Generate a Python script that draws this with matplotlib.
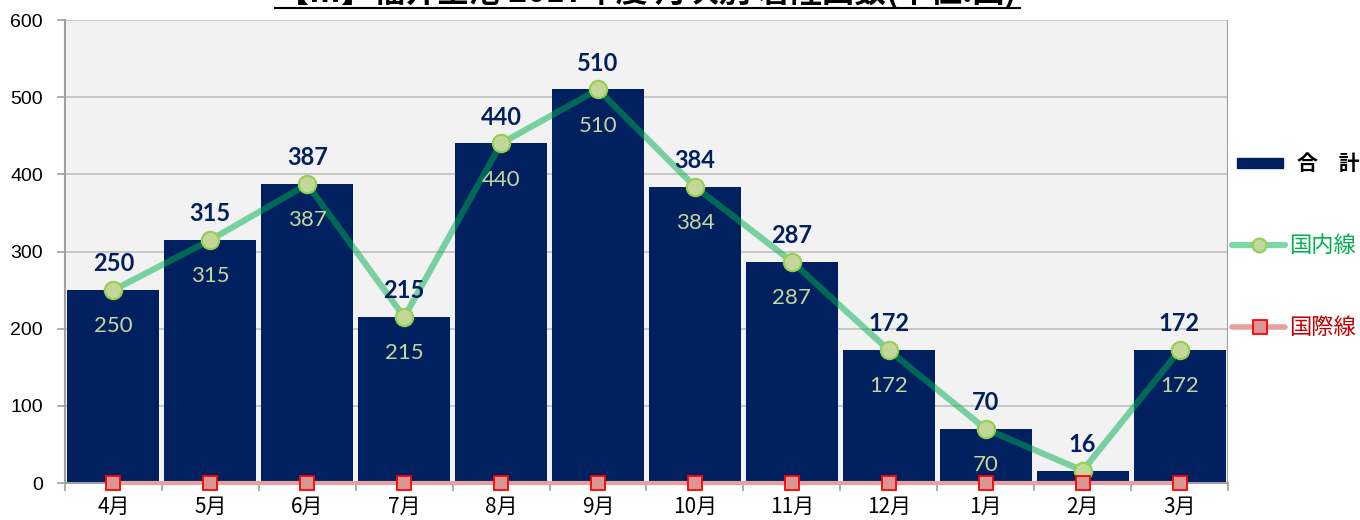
import matplotlib.pyplot as plt
from matplotlib.lines import Line2D
from matplotlib.patches import Rectangle
import numpy as np

months = ['4月', '5月', '6月', '7月', '8月', '9月', '10月', '11月', '12月', '1月', '2月', '3月']
total = [250, 315, 387, 215, 440, 510, 384, 287, 172, 70, 16, 172]
domestic = [250, 315, 387, 215, 440, 510, 384, 287, 172, 70, 16, 172]
international = [0, 0, 0, 0, 0, 0, 0, 0, 0, 0, 0, 0]
series_names = ['合　計', '国内線', '国際線']
title = '【Ⅲ】福井空港 2017年度 月次別 着陸回数(単位:回)'

JP = ['Noto Sans CJK JP', 'DejaVu Sans']
NUM = ['Liberation Sans', 'Noto Sans CJK JP']
LBL = ['Lato', 'Noto Sans CJK JP']

W, H = 1360, 520

def fx(px):
    return px / W

def fy(py):
    return 1 - py / H

def main():
    fig = plt.figure(figsize=(W / 100, H / 100), dpi=100)
    ax = fig.add_axes([fx(65), fy(483), (1228 - 65) / W, (483 - 20) / H])
    ax.set_facecolor('#F2F2F2')

    x = np.arange(len(months))
    ax.bar(x, total, width=0.95, color='#002060', zorder=2)
    ax.plot(x, domestic, color='#00B050', alpha=0.5, lw=4.5, zorder=3, solid_capstyle='round')
    ax.plot(x, domestic, ls='none', marker='o', ms=12.5, mfc='#C4D79B', mec='#92D050', mew=1.5, zorder=4)
    ax.plot(x, international, color='#E6A0A0', lw=3, zorder=3, clip_on=False)
    ax.plot(x, international, ls='none', marker='s', ms=10, mfc='#DA9694', mec='#FF0000', mew=1.3,
            zorder=5, clip_on=False)

    for i, v in enumerate(total):
        ax.annotate(str(v), (x[i], v), xytext=(0, 19), textcoords='offset points', ha='center', va='center',
                    fontsize=17, fontweight='bold', color='#002060', family=LBL, zorder=6)
    # domestic labels sit inside the bar; too short a bar pushes them below the axis, where they are hidden
    for i, v in enumerate(domestic):
        if v < 40:
            continue
        ax.annotate(str(v), (x[i], v), xytext=(0, -26), textcoords='offset points', ha='center',
                    va='center', fontsize=16, color='#C4D79B', family=LBL, zorder=6, clip_on=True)

    ax.set_xlim(-0.5, len(months) - 0.5)
    ax.set_ylim(0, 600)
    ax.set_yticks(range(0, 601, 100))
    ax.yaxis.grid(True, color='#BFBFBF', lw=1.2, zorder=1)
    ax.set_axisbelow(True)
    ax.set_xticks(x)
    ax.set_xticklabels(months, family=JP, fontsize=15)
    ax.set_xticks(np.arange(-0.5, len(months)), minor=True)
    ax.tick_params(axis='x', which='major', length=0, pad=9)
    ax.tick_params(axis='x', which='minor', length=6, color='#A0A0A0', width=1.2)
    ax.tick_params(axis='y', length=6, color='#A0A0A0', width=1.2, pad=10)
    for lab in ax.get_yticklabels():
        lab.set_family(NUM)
        lab.set_fontsize(14)
    for s in ['top', 'right']:
        ax.spines[s].set_visible(False)
    ax.spines['left'].set_color('#A0A0A0')
    ax.spines['left'].set_linewidth(1.5)
    ax.spines['bottom'].set_color('#A0A0A0')
    ax.spines['bottom'].set_linewidth(1.5)
    ax.axvline(len(months) - 0.5, color='#A0A0A0', lw=1.5, zorder=1)

    # title, mostly cut off at the top edge
    fig.text(fx(647), fy(9), title, ha='center', va='bottom', fontsize=23, fontweight='bold', family=JP)
    fig.add_artist(Line2D([fx(275), fx(1020)], [fy(8), fy(8)], color='black', lw=1.5))

    # legend drawn by hand
    fig.add_artist(Rectangle((fx(1237), fy(168)), fx(1283) - fx(1237), 10 / H, color='#002060'))
    fig.add_artist(Line2D([fx(1232), fx(1285)], [fy(245), fy(245)], color='#00B050', alpha=0.5, lw=4.5,
                          solid_capstyle='round'))
    fig.add_artist(Line2D([fx(1259)], [fy(245)], marker='o', ms=10, mfc='#C4D79B', mec='#92D050', mew=1.5))
    fig.add_artist(Line2D([fx(1232), fx(1285)], [fy(327), fy(327)], color='#E6A0A0', lw=4,
                          solid_capstyle='round'))
    fig.add_artist(Line2D([fx(1260)], [fy(327)], marker='s', ms=10, mfc='#DA9694', mec='#FF0000', mew=1.3))
    fig.text(fx(1297), fy(163), series_names[0], ha='left', va='center', fontsize=15, fontweight='bold',
             family=JP, color='black')
    fig.text(fx(1289), fy(245), series_names[1], ha='left', va='center', fontsize=16, family=JP,
             color='#00B050')
    fig.text(fx(1289), fy(327), series_names[2], ha='left', va='center', fontsize=16, family=JP,
             color='#C00000')

    fig.savefig('out.png', dpi=100)

if __name__ == "__main__":
    main()
